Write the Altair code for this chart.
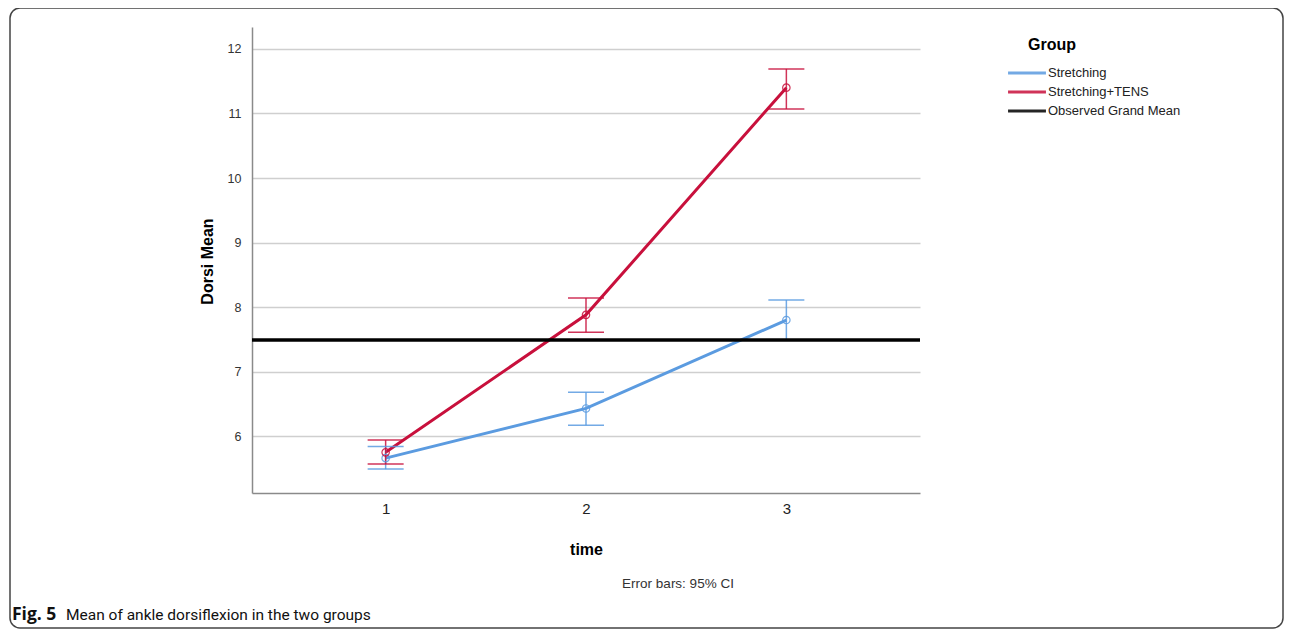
import altair as alt
import pandas as pd

# ---- data ----
times = [1, 2, 3]
groups = ["Stretching", "Stretching+TENS"]
stretch_mean = [5.66, 6.43, 7.80]
stretch_lo = [5.49, 6.17, 7.49]
stretch_hi = [5.84, 6.68, 8.11]
tens_mean = [5.75, 7.88, 11.40]
tens_lo = [5.57, 7.61, 11.07]
tens_hi = [5.94, 8.14, 11.69]
grand_mean_label = "Observed Grand Mean"
grand_mean = [7.49]
y_ticks = [6, 7, 8, 9, 10, 11, 12]
legend_title = ["Group"]
note_text = ["Error bars: 95% CI"]
caption_bold = ["Fig. 5"]
caption_text = ["Mean of ankle dorsiflexion in the two groups"]

rows = []
for g, m, lo, hi in [(groups[0], stretch_mean, stretch_lo, stretch_hi),
                     (groups[1], tens_mean, tens_lo, tens_hi)]:
    for t, a, b, c in zip(times, m, lo, hi):
        rows.append({"time": t, "group": g, "mean": a, "lo": b, "hi": c})
df = pd.DataFrame(rows)
gm = pd.DataFrame({"group": [grand_mean_label], "value": grand_mean})

FONT = "Liberation Sans"
color_scale = alt.Scale(domain=groups + [grand_mean_label],
                        range=["#5B9BE0", "#C8103C", "#000000"])
xs = alt.Scale(domain=[0.333, 3.667], nice=False, zero=False)
ys = alt.Scale(domain=[5.12, 12.34], nice=False, zero=False)

x_axis = alt.Axis(values=times, format="d", title="time", grid=False, ticks=False,
                  labelPadding=8, labelFontSize=15, labelColor="#222", labelFont=FONT,
                  domainColor="#8a8a8a", domainWidth=1.5,
                  titleX=334, titleY=56, titleBaseline="middle", titleAlign="center",
                  titleFontSize=16, titleFontWeight="bold", titleFont=FONT, titleColor="#000")
y_axis = alt.Axis(values=y_ticks, title="Dorsi Mean", grid=True, ticks=False,
                  gridColor="#cfcfcf", gridWidth=1.5,
                  labelPadding=11, labelFontSize=12.5, labelColor="#333", labelFont=FONT,
                  domainColor="#8a8a8a", domainWidth=1.5,
                  titleX=-45, titleY=234, titleAngle=270, titleBaseline="middle",
                  titleAlign="center", titleFontSize=16, titleFontWeight="bold",
                  titleFont=FONT, titleColor="#000")
legend = alt.Legend(title=None, orient="none", legendX=763, legendY=34,
                    labelFontSize=13, labelFont=FONT, labelColor="#222",
                    symbolType="M-1.85,0H1.85", symbolStrokeWidth=3, symbolSize=420,
                    labelOffset=9, rowPadding=0)

X = alt.X("time:Q", scale=xs, axis=x_axis)
C = alt.Color("group:N", scale=color_scale, legend=legend)

base = alt.Chart(df)

frame = alt.Chart(pd.DataFrame({"k": [0]})).mark_rect(
    fill="transparent", stroke="#444", strokeWidth=1.5, cornerRadius=10
).encode(x=alt.value(-242), x2=alt.value(1031), y=alt.value(-19), y2=alt.value(601))

lines = base.mark_line(strokeWidth=3).encode(
    x=X, y=alt.Y("mean:Q", scale=ys, axis=y_axis), color=C)

err = base.mark_rule(strokeWidth=1.5, opacity=0.85).encode(
    x=X, y=alt.Y("lo:Q", scale=ys, axis=y_axis), y2="hi:Q", color=C)

cap_lo = base.mark_tick(orient="horizontal", size=36, thickness=1.5, opacity=0.85).encode(
    x=X, y=alt.Y("lo:Q", scale=ys, axis=y_axis), color=C)
cap_hi = base.mark_tick(orient="horizontal", size=36, thickness=1.5, opacity=0.85).encode(
    x=X, y=alt.Y("hi:Q", scale=ys, axis=y_axis), color=C)

pts = base.mark_point(filled=False, size=55, strokeWidth=1.2, opacity=0.85).encode(
    x=X, y=alt.Y("mean:Q", scale=ys, axis=y_axis), color=C)

gm_rule = alt.Chart(gm).mark_rule(strokeWidth=3.5).encode(
    y=alt.Y("value:Q", scale=ys, axis=y_axis), color=C)

leg_title = alt.Chart(pd.DataFrame({"t": legend_title})).mark_text(
    font=FONT, fontSize=16, fontWeight="bold", color="#000", align="center", baseline="middle"
).encode(text="t:N", x=alt.value(800), y=alt.value(18))

note = alt.Chart(pd.DataFrame({"t": note_text})).mark_text(
    font=FONT, fontSize=13.5, color="#333", align="center", baseline="middle"
).encode(text="t:N", x=alt.value(426), y=alt.value(557))

cap1 = alt.Chart(pd.DataFrame({"t": caption_bold})).mark_text(
    font="Open Sans", fontSize=17.5, fontWeight="bold", color="#111",
    align="left", baseline="middle"
).encode(text="t:N", x=alt.value(-240), y=alt.value(588))

cap2 = alt.Chart(pd.DataFrame({"t": caption_text})).mark_text(
    font="Roboto", fontSize=15.5, color="#111", align="left", baseline="middle"
).encode(text="t:N", x=alt.value(-186), y=alt.value(588))

chart = alt.layer(frame, lines, err, cap_lo, cap_hi, pts, gm_rule, leg_title, note, cap1, cap2).properties(
    width=668, height=466,
    padding={"left": 244, "top": 19, "right": 364, "bottom": 136},
    autosize=alt.AutoSizeParams(type="none"),
    background="white",
).configure_view(stroke=None)

chart.save("out.html", embed_options={"renderer": "svg", "actions": False})
